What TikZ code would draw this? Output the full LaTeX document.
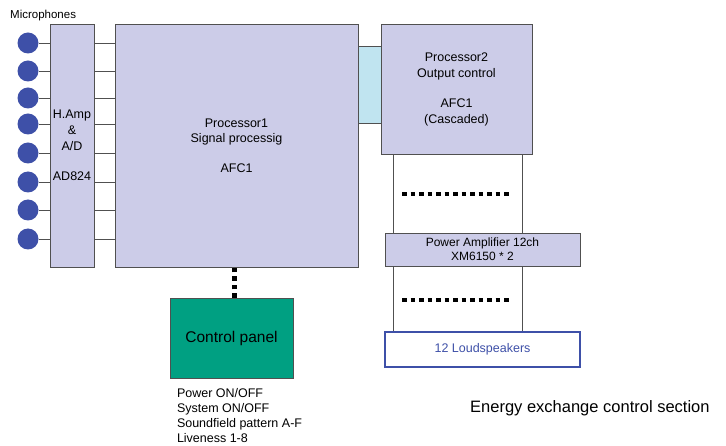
\documentclass[tikz,border=0pt]{standalone}
\usepackage{fontspec}
\setmainfont{Liberation Sans}
\usepackage{xcolor}
\usetikzlibrary{positioning,calc}
\definecolor{lav}{RGB}{204,204,232}
\definecolor{aqua}{RGB}{192,228,240}
\definecolor{panelgreen}{RGB}{0,160,130}
\definecolor{micblue}{RGB}{62,80,168}
\definecolor{edge}{RGB}{80,80,80}

\begin{document}
\begin{tikzpicture}[x=1pt,y=-1pt,
  font=\fontsize{12.5}{16}\selectfont,
  blk/.style={draw=edge,fill=lav,inner sep=0pt,align=center},
  mic/.style={circle,fill=micblue,inner sep=0pt,minimum size=21pt},
  wire/.style={draw=edge,line width=0.6pt},
  dots/.style={line width=4.5pt,dash pattern=on 4.5pt off 4pt}
]
\useasboundingbox (0,0) rectangle (726,446);
\node[anchor=west,inner sep=0pt,font=\fontsize{11.5}{14}\selectfont] (mtitle) at (10,16) {Microphones};
\node[blk,minimum width=44pt,minimum height=243pt] (hamp) at (72,145.5) {H.Amp\\\&\\A/D\\[14pt]AD824};
\node[blk,minimum width=243pt,minimum height=243pt,font=\fontsize{12.5}{15}\selectfont] (proc1) at (236.5,145.5) {Processor1\\Signal processig\\[15pt]AFC1};
\foreach \y [count=\i] in {43,71,98,124,153,182,210,239}{
  \node[mic] (m\i) at (28,\y) {};
  \draw[wire] (m\i) -- (m\i -| hamp.west);
  \draw[wire] (m\i -| hamp.east) -- (m\i -| proc1.west);
}
\node[blk,fill=aqua,minimum width=23pt,minimum height=77pt] (link) at (369.5,84.5) {};
\node[blk,minimum width=151pt,minimum height=130pt] (proc2) at (456.5,89) {Processor2\\Output control\\[14pt]AFC1\\(Cascaded)};
\node[draw=micblue,line width=2pt,fill=white,text=micblue,minimum width=195pt,minimum height=35pt] (spk) at (482.5,349.5) {12 Loudspeakers};
% channel columns behind the amplifier
\coordinate (cl) at ([xshift=12pt]proc2.south west);
\coordinate (cr) at ([xshift=-10pt]proc2.south east);
\draw[wire] (cl) -- (cl |- spk.north);
\draw[wire] (cr) -- (cr |- spk.north);
\node[blk,minimum width=195pt,minimum height=33pt,font=\fontsize{12}{14}\selectfont] (amp) at (482.5,249.5) {Power Amplifier 12ch\\XM6150 * 2};
\coordinate (d1) at (402,194); \coordinate (d2) at (511,194);
\coordinate (d3) at (402,300); \coordinate (d4) at (511,300);
\draw[dots] (d1) -- (d2);
\draw[dots] (d3) -- (d4);
\node[draw=edge,fill=panelgreen,minimum width=123pt,minimum height=80pt,font=\fontsize{15.5}{18}\selectfont] (panel) at (231.5,338) {Control panel};
\draw[dots] ([xshift=3pt]panel.north) -- ([xshift=3pt]panel.north |- proc1.south);
\node[anchor=north west,align=left,inner sep=0pt,font=\fontsize{12.5}{15}\selectfont] (ctrl) at ([xshift=7pt,yshift=-10pt]panel.south west) {Power ON/OFF\\System ON/OFF\\Soundfield pattern A-F\\Liveness 1-8};
\node[anchor=west,inner sep=0pt,font=\fontsize{16.5}{18}\selectfont] (sect) at (470,408) {Energy exchange control section};
\end{tikzpicture}
\end{document}
